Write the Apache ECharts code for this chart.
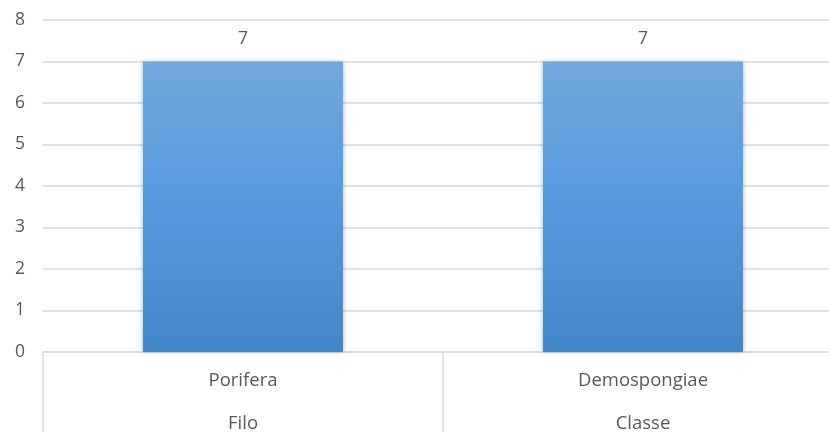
<!DOCTYPE html>
<html>
<head>
<meta charset="utf-8">
<script src="https://cdn.jsdelivr.net/npm/echarts@6/dist/echarts.min.js"></script>
<style>
  html, body { margin: 0; padding: 0; background: #ffffff; }
  #chart { width: 829px; height: 432px; }
</style>
</head>
<body>
<div id="chart"></div>
<script>
// Taxonomic rank counts
const categories = ['Porifera', 'Demospongiae'];
const groups = ['Filo', 'Classe'];
const values = [7, 7];
const yTicks = [0, 1, 2, 3, 4, 5, 6, 7, 8];

const textColor = '#595959';
const lineColor = '#d9d9d9';
const fontFamily = '"Open Sans", "Noto Sans", sans-serif';

const chart = echarts.init(document.getElementById('chart'), null, { renderer: 'canvas' });

chart.setOption({
  animation: false,
  backgroundColor: '#ffffff',
  grid: {
    left: 43, right: -14, top: 20, bottom: 80,
    containLabel: false,
    outerBoundsMode: 'none'
  },
  xAxis: {
    type: 'category',
    data: categories,
    boundaryGap: true,
    axisLine: { show: true, lineStyle: { color: lineColor, width: 1.5 } },
    axisTick: {
      show: true,
      interval: 0,
      inside: false,
      length: 80,
      lineStyle: { color: lineColor, width: 1.5 }
    },
    axisLabel: {
      interval: 0,
      margin: 7,
      formatter: function (v, i) { return v + '\n' + groups[i]; },
      color: textColor,
      fontSize: 18.5,
      lineHeight: 43,
      fontFamily: fontFamily
    }
  },
  yAxis: {
    type: 'value',
    min: yTicks[0],
    max: yTicks[yTicks.length - 1],
    interval: 1,
    axisLine: { show: false },
    axisTick: { show: false },
    splitLine: { show: true, lineStyle: { color: lineColor, width: 1.5 } },
    axisLabel: {
      margin: 18,
      color: textColor,
      fontSize: 17.5,
      fontFamily: fontFamily
    }
  },
  series: [{
    type: 'bar',
    data: values,
    barWidth: 200,
    itemStyle: {
      color: new echarts.graphic.LinearGradient(0, 0, 0, 1, [
        { offset: 0, color: '#70a7dd' },
        { offset: 0.5, color: '#559ade' },
        { offset: 1, color: '#4287c8' }
      ]),
      shadowColor: 'rgba(0,0,0,0.3)',
      shadowBlur: 5,
      shadowOffsetX: 0,
      shadowOffsetY: 0
    },
    label: {
      show: true,
      position: 'top',
      distance: 13,
      color: textColor,
      fontSize: 17.5,
      fontFamily: fontFamily
    }
  }]
});
</script>
</body>
</html>
